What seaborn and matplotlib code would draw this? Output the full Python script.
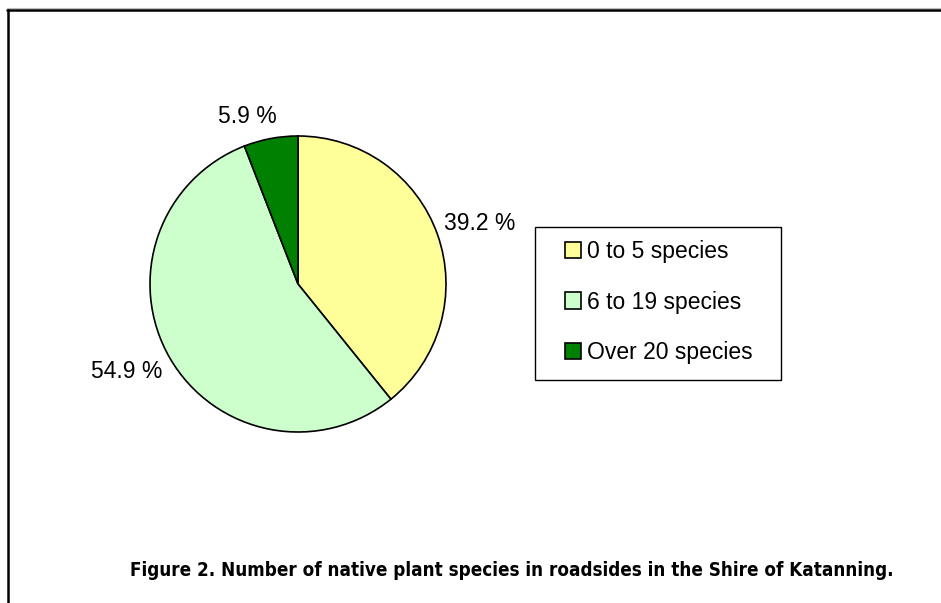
import matplotlib
matplotlib.use("Agg")
import matplotlib.pyplot as plt
from matplotlib.patches import Rectangle
from matplotlib.lines import Line2D
import seaborn as sns

categories = ["0 to 5 species", "6 to 19 species", "Over 20 species"]
percents = [39.2, 54.9, 5.9]
pct_labels = ["39.2 %", "54.9 %", "5.9 %"]
colors = ["#FFFF99", "#CCFFCC", "#008000"]
caption = "Figure 2. Number of native plant species in roadsides in the Shire of Katanning."

sns.set_theme(style="white")
plt.rcParams["font.family"] = ["Liberation Sans", "DejaVu Sans"]

W, H = 941, 603
fig = plt.figure(figsize=(W / 100, H / 100), dpi=100)
fig.patch.set_facecolor("white")

# pie axes: centre (298, 284) px, radius 148 px
cx, cy, r = 298, 284, 148
ax = fig.add_axes([(cx - r) / W, (H - cy - r) / H, 2 * r / W, 2 * r / H])
wedges, texts = ax.pie(percents, labels=pct_labels, colors=colors, startangle=90,
                       counterclock=False, labeldistance=1.12,
                       wedgeprops=dict(edgecolor="black", linewidth=1.2),
                       textprops=dict(fontsize=16.5, color="black"))
# small nudges (px) so the labels sit like the Excel original
nudges = [(-10, 5), (8, -4), (9, 5)]
for t, (dx, dy) in zip(texts, nudges):
    x, y = t.get_position()
    t.set_position((x + dx / r, y + dy / r))
ax.set_xlim(-1, 1)
ax.set_ylim(-1, 1)
ax.set_aspect("equal")
ax.axis("off")

# legend with a plain rectangular frame
fig.add_artist(Rectangle((535 / W, 1 - 380 / H), (781 - 535) / W, (380 - 227) / H,
                         transform=fig.transFigure, facecolor="white",
                         edgecolor="black", linewidth=1.0))
leg = fig.legend(wedges, categories, loc="upper left",
                 bbox_to_anchor=(565 / W, 1 - 240 / H), frameon=False,
                 fontsize=16.5, labelcolor="black", handlelength=0.7, handleheight=0.7,
                 handletextpad=0.25, labelspacing=1.2, borderpad=0, borderaxespad=0)
for h in leg.legend_handles:
    h.set_edgecolor("black")
    h.set_linewidth(1.2)

# outer frame (top and left only)
fig.add_artist(Line2D([7 / W, 1], [1 - 8 / H, 1 - 8 / H], transform=fig.transFigure,
                      color="#bbbbbb", linewidth=0.8))
fig.add_artist(Line2D([7 / W, 1], [1 - 9.8 / H, 1 - 9.8 / H], transform=fig.transFigure,
                      color="black", linewidth=1.8))
fig.add_artist(Line2D([7.5 / W, 7.5 / W], [0, 1 - 9.5 / H], transform=fig.transFigure,
                      color="black", linewidth=1.8))

fig.text(130 / W, 1 - 571 / H, caption, ha="left", va="center", fontsize=13.5,
         fontweight="bold", fontstretch="condensed", color="black",
         family=["DejaVu Sans"])

fig.savefig("out.png", dpi=100, facecolor="white")
